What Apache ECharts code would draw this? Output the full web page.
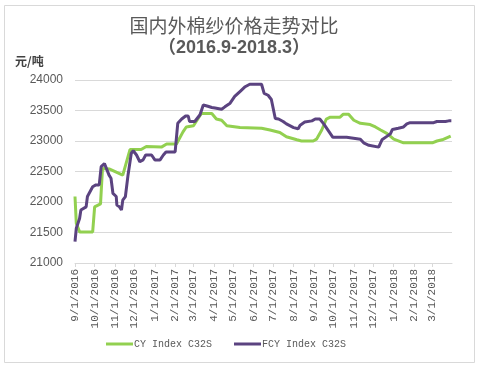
<!DOCTYPE html>
<html>
<head>
<meta charset="utf-8">
<script src="https://cdn.jsdelivr.net/npm/echarts@6/dist/echarts.min.js"></script>
<style>
html,body{margin:0;padding:0;background:#fff;}
#c{width:479px;height:369px;}
</style>
</head>
<body>
<div id="c"></div>
<script>
const titleText = "国内外棉纱价格走势对比";
const subTitleText = "（2016.9-2018.3）";
const unitText = "元/吨";
const seriesNames = ["CY Index C32S", "FCY Index C32S"];
const yTicks = [21000, 21500, 22000, 22500, 23000, 23500, 24000];

const cyDates = ["2016-09-01","2016-09-03","2016-09-08","2016-09-28","2016-10-01","2016-10-10","2016-10-13","2016-10-24","2016-11-13","2016-11-16","2016-11-24","2016-12-11","2016-12-19","2017-01-11","2017-01-19","2017-02-03","2017-02-13","2017-02-18","2017-03-01","2017-03-13","2017-03-29","2017-04-05","2017-04-13","2017-04-21","2017-05-11","2017-06-13","2017-06-26","2017-07-11","2017-07-21","2017-08-06","2017-08-13","2017-08-31","2017-09-05","2017-09-13","2017-09-20","2017-09-26","2017-10-11","2017-10-16","2017-10-24","2017-11-01","2017-11-11","2017-11-26","2017-12-04","2017-12-12","2017-12-22","2018-01-01","2018-01-16","2018-03-01","2018-03-08","2018-03-16","2018-03-29"];
const cyValues = [22090,21650,21510,21510,21920,21970,22550,22540,22440,22460,22860,22860,22910,22900,22950,22950,23150,23230,23250,23450,23450,23360,23340,23250,23220,23210,23180,23140,23070,23020,23000,23000,23030,23180,23360,23390,23390,23440,23440,23340,23290,23270,23230,23180,23120,23030,22970,22970,23000,23020,23080];

const fcyDates = ["2016-09-01","2016-09-03","2016-09-08","2016-09-10","2016-09-18","2016-09-20","2016-09-28","2016-10-03","2016-10-08","2016-10-11","2016-10-16","2016-10-19","2016-10-23","2016-10-26","2016-10-29","2016-11-03","2016-11-04","2016-11-08","2016-11-11","2016-11-13","2016-11-17","2016-11-21","2016-11-26","2016-11-29","2016-12-04","2016-12-09","2016-12-14","2016-12-18","2016-12-27","2017-01-01","2017-01-09","2017-01-14","2017-01-18","2017-02-01","2017-02-04","2017-02-05","2017-02-11","2017-02-17","2017-02-21","2017-02-23","2017-03-03","2017-03-11","2017-03-16","2017-03-23","2017-03-29","2017-04-03","2017-04-13","2017-04-18","2017-04-26","2017-05-03","2017-05-11","2017-05-19","2017-05-26","2017-06-13","2017-06-17","2017-06-23","2017-06-28","2017-07-04","2017-07-09","2017-07-16","2017-07-21","2017-08-01","2017-08-08","2017-08-11","2017-08-18","2017-08-29","2017-09-03","2017-09-10","2017-09-16","2017-09-23","2017-09-30","2017-10-21","2017-10-24","2017-11-11","2017-11-16","2017-11-24","2017-11-26","2017-12-09","2017-12-14","2017-12-22","2017-12-27","2017-12-30","2018-01-08","2018-01-16","2018-01-21","2018-01-26","2018-03-03","2018-03-08","2018-03-21","2018-03-26","2018-03-30"];
const fcyValues = [21350,21570,21730,21870,21920,22090,22250,22280,22280,22580,22630,22630,22440,22390,22140,22090,21950,21920,21870,22030,22090,22440,22800,22840,22770,22660,22690,22770,22770,22690,22690,22770,22820,22820,22850,23290,23360,23410,23410,23320,23320,23430,23590,23570,23550,23540,23520,23560,23620,23730,23810,23890,23930,23930,23780,23750,23680,23370,23360,23320,23280,23220,23200,23260,23310,23330,23360,23360,23280,23170,23060,23060,23030,23030,22970,22930,22900,22900,23020,23080,23120,23190,23210,23230,23280,23300,23300,23320,23320,23330,23330];

const pair = (ds, vs) => ds.map((d, i) => [d, vs[i]]);
const DAY = 24 * 3600 * 1000;

const chart = echarts.init(document.getElementById('c'));
chart.setOption({
  animation: false,
  backgroundColor: '#ffffff',
  graphic: [{
    type: 'rect', silent: true,
    shape: { x: 4.5, y: 5.5, width: 470, height: 357 },
    style: { fill: 'none', stroke: '#D9D9D9', lineWidth: 1 }
  }],
  title: [
    { text: titleText, left: 229, top: 11, textAlign: 'center',
      textStyle: { fontFamily: 'Noto Sans CJK SC', fontSize: 19, fontWeight: 'normal', color: '#595959' } },
    { text: subTitleText, left: 229, top: 34, textAlign: 'center',
      textStyle: { fontFamily: 'Liberation Sans, Noto Sans CJK SC', fontSize: 18, fontWeight: 'bold', color: '#595959' } },
    { text: unitText, left: 10, top: 50,
      textStyle: { fontFamily: 'Noto Sans CJK SC', fontSize: 12, fontWeight: 'bold', color: '#404040' } }
  ],
  legend: {
    left: 106, top: 339, padding: 0,
    itemWidth: 27, itemHeight: 3, itemGap: 22,
    icon: 'rect',
    textStyle: { fontFamily: 'Liberation Mono', fontSize: 10, color: '#595959', padding: [0, 0, 0, -4] },
    data: seriesNames
  },
  grid: { left: 75, right: 27, top: 80, bottom: 106, containLabel: false },
  xAxis: {
    type: 'time',
    min: '2016-09-01', max: '2018-03-31',
    minInterval: 28 * DAY, maxInterval: 31 * DAY,
    axisLine: { lineStyle: { color: '#D9D9D9' } },
    axisTick: { show: true, length: 4, lineStyle: { color: '#D9D9D9' } },
    splitLine: { show: false },
    axisLabel: {
      rotate: 90, margin: 6, color: '#595959', fontFamily: 'Liberation Mono', fontSize: 11,
      showMinLabel: true, showMaxLabel: false, hideOverlap: false,
      formatter: function (v) {
        const d = new Date(v);
        return (d.getMonth() + 1) + '/' + d.getDate() + '/' + d.getFullYear();
      }
    }
  },
  yAxis: {
    type: 'value', min: yTicks[0], max: yTicks[yTicks.length - 1], interval: 500,
    axisLine: { show: false }, axisTick: { show: false },
    splitLine: { lineStyle: { color: '#D9D9D9' } },
    axisLabel: { color: '#595959', fontFamily: 'Liberation Sans', fontSize: 12, margin: 12,
      formatter: function (v) { return String(v); } }
  },
  series: [
    { name: seriesNames[0], type: 'line', data: pair(cyDates, cyValues), showSymbol: false,
      lineStyle: { color: '#92D050', width: 3 }, itemStyle: { color: '#92D050' } },
    { name: seriesNames[1], type: 'line', data: pair(fcyDates, fcyValues), showSymbol: false,
      lineStyle: { color: '#5B4380', width: 3 }, itemStyle: { color: '#5B4380' } }
  ]
});
</script>
</body>
</html>
